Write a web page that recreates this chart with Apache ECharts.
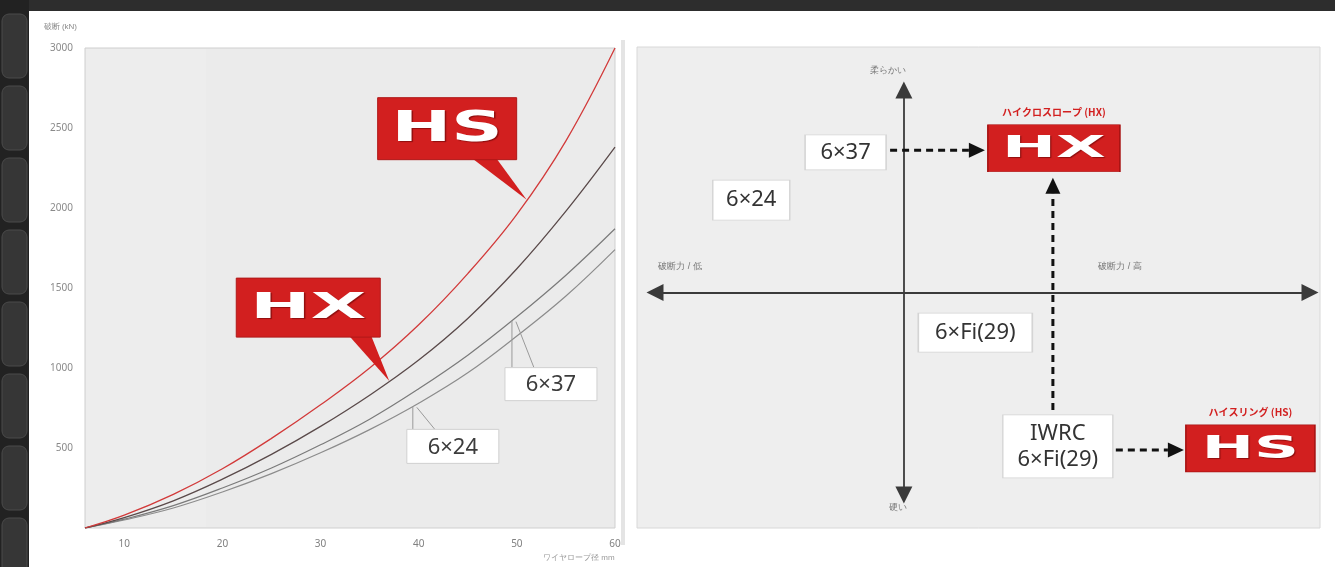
<!DOCTYPE html>
<html><head><meta charset="utf-8">
<script src="https://cdn.jsdelivr.net/npm/echarts@6/dist/echarts.min.js"></script>
<style>html,body{margin:0;padding:0;background:#fff}#c{width:1335px;height:567px}</style>
</head><body><div id="c"></div>
<script>
// ---------- left chart: breaking load vs rope diameter ----------
const diameters = [6, 10, 15, 20, 25, 30, 35, 40, 45, 50, 55, 60];
const hsLoad    = [0, 80, 210, 370, 560, 770, 1000, 1270, 1590, 1960, 2420, 3000];
const hxLoad    = [0, 65, 170, 305, 460, 635, 830, 1050, 1310, 1620, 1980, 2380];
const load6x37  = [0, 55, 140, 250, 375, 520, 680, 870, 1080, 1320, 1580, 1870];
const load6x24  = [0, 50, 125, 225, 340, 470, 615, 780, 970, 1200, 1450, 1740];
const xTickValues = [10, 20, 30, 40, 50, 60];
const yTickValues = [500, 1000, 1500, 2000, 2500, 3000];

// ---------- right diagram: strength (x) vs flexibility (y) ----------
const quadNames    = ['6×37', 'HX', '6×24', '6×Fi(29)', 'IWRC\n6×Fi(29)', 'HS'];
const quadStrength = [-8.9, 22.9, -23.3, 10.9, 23.5, 52.9];
const quadFlex     = [34.6, 35.6, 22.8, -9.9, -38.0, -38.5];
const captionNames = ['柔らかい', '硬い', '破断力 / 低', '破断力 / 高'];
const captionX     = [-2.4, -0.9, -34.2, 33.0];
const captionY     = [54.9, -53.2, 6.3, 6.3];

const boxLook = {
  '6×37': {w: 81, h: 35, red: false},
  'HX': {w: 132, h: 47, red: true},
  '6×24': {w: 77, h: 40, red: false},
  '6×Fi(29)': {w: 114, h: 39, red: false},
  'IWRC\n6×Fi(29)': {w: 110, h: 63, red: false},
  'HS': {w: 129, h: 47, red: true}
};
const RED = '#d21f1f';

const chart = echarts.init(document.getElementById('c'), null, {renderer: 'canvas'});
const pairs = arr => diameters.map((d, i) => [d, arr[i]]);
function valueAt(arr, d) {
  for (let i = 0; i < diameters.length - 1; i++) {
    if (d >= diameters[i] && d <= diameters[i + 1]) {
      const t = (d - diameters[i]) / (diameters[i + 1] - diameters[i]);
      return arr[i] + t * (arr[i + 1] - arr[i]);
    }
  }
  return arr[arr.length - 1];
}
function lineSeries(name, arr, color, w) {
  return {name, type: 'line', xAxisIndex: 0, yAxisIndex: 0, data: pairs(arr), smooth: 0.4,
    showSymbol: false, symbol: 'none', lineStyle: {color, width: w}, z: 3};
}

chart.setOption({
  animation: false,
  backgroundColor: '#ffffff',
  grid: [
    {left: 85, right: 720, top: 48, bottom: 39, show: true, backgroundColor: '#ebebeb', borderColor: '#cfcfcf', borderWidth: 1},
    {left: 655, right: 25, top: 90, bottom: 72}
  ],
  xAxis: [
    {gridIndex: 0, type: 'value', min: 6, max: 60,
      name: 'ワイヤロープ径 mm', nameLocation: 'end', nameGap: -72,
      nameTextStyle: {fontSize: 8, color: '#9a9a9a', verticalAlign: 'top', padding: [26, 0, 0, 0]},
      axisLine: {show: false}, axisTick: {show: false}, splitLine: {show: false},
      axisLabel: {customValues: xTickValues, color: '#808080', fontSize: 10, margin: 11, fontFamily: 'Noto Sans'}},
    {gridIndex: 1, type: 'value', min: -38, max: 62, z: 3,
      axisLine: {onZero: true, symbol: ['triangle', 'triangle'], symbolSize: [17, 17], lineStyle: {color: '#3a3a3a', width: 1.8}},
      axisTick: {show: false}, axisLabel: {show: false}, splitLine: {show: false}}
  ],
  yAxis: [
    {gridIndex: 0, type: 'value', min: 0, max: 3000,
      name: '破断 (kN)', nameLocation: 'end', nameGap: 17,
      nameTextStyle: {fontSize: 8, color: '#8a8a8a', align: 'right', padding: [0, 8, 0, 0]},
      axisLine: {show: false}, axisTick: {show: false}, splitLine: {show: false},
      axisLabel: {customValues: yTickValues, formatter: v => String(v), color: '#8a8a8a', fontSize: 10, margin: 12, fontFamily: 'Noto Sans'}},
    {gridIndex: 1, type: 'value', min: -50, max: 50, z: 3,
      axisLine: {onZero: true, symbol: ['triangle', 'triangle'], symbolSize: [17, 17], lineStyle: {color: '#3a3a3a', width: 1.8}},
      axisTick: {show: false}, axisLabel: {show: false}, splitLine: {show: false}}
  ],
  series: [
    lineSeries('6×24', load6x24, '#8c8c8c', 1.2),
    lineSeries('6×37', load6x37, '#7a7a7a', 1.2),
    lineSeries('HX', hxLoad, '#5a4a4a', 1.3),
    lineSeries('HS', hsLoad, '#d23a3a', 1.3),
    {type: 'scatter', xAxisIndex: 1, yAxisIndex: 1, clip: false, z: 4,
      data: quadNames.map((n, i) => {
        const b = boxLook[n];
        return {name: n, value: [quadStrength[i], quadFlex[i]], symbol: 'rect', symbolSize: [b.w, b.h],
          itemStyle: b.red ? {color: RED, borderColor: '#a81414', borderWidth: 1, opacity: 1}
                           : {color: '#ffffff', borderColor: '#d4d4d4', borderWidth: 1, opacity: 1},
          label: {show: !b.red}};
      }),
      emphasis: {disabled: true},
      label: {show: true, position: 'inside', formatter: '{b}', color: '#333', fontSize: 22,
        lineHeight: 26, fontFamily: 'Noto Sans'}},
    {type: 'scatter', xAxisIndex: 1, yAxisIndex: 1, clip: false, z: 4, symbolSize: 0,
      data: captionNames.map((n, i) => ({name: n, value: [captionX[i], captionY[i]]})),
      emphasis: {disabled: true},
      label: {show: true, position: 'inside', formatter: '{b}', color: '#555', fontSize: 9}}
  ]
});

// ---------- annotations ----------
const g = [];
g.push({type: 'rect', shape: {x: 0, y: 0, width: 1335, height: 11}, style: {fill: '#2d2d2d'}, z: 20});
g.push({type: 'rect', shape: {x: 0, y: 0, width: 29, height: 567}, style: {fill: '#222'}, z: 20});
for (let k = 0; k < 8; k++) {
  g.push({type: 'rect', shape: {x: 2, y: 14 + k * 72, width: 25, height: 64, r: 7},
    style: {fill: '#363636', stroke: '#4a4a4a', lineWidth: 1}, z: 21});
}
g.push({type: 'rect', shape: {x: 86, y: 49, width: 120, height: 478}, style: {fill: 'rgba(255,255,255,0.12)'}, z: 0});
g.push({type: 'rect', shape: {x: 621, y: 40, width: 4, height: 505}, style: {fill: '#e4e4e4'}, z: 0});
g.push({type: 'rect', shape: {x: 637, y: 47, width: 683, height: 481}, style: {fill: '#eeeeee', stroke: '#d8d8d8'}, z: -10});

function balloon(tip, dx, dy, w, h, b1, b2, text, fs, sx) {
  const bx = tip[0] + dx, by = tip[1] + dy;
  g.push({type: 'polygon', shape: {points: [[bx + b1, by + h - 1], [tip[0], tip[1]], [bx + b2, by + h - 1]]},
    style: {fill: RED}, z: 12});
  g.push({type: 'rect', shape: {x: bx, y: by, width: w, height: h}, style: {fill: RED, stroke: '#b01818', lineWidth: 1}, z: 12});
  g.push({type: 'text', x: bx + w / 2, y: by + h / 2 + 1, scaleX: sx, z: 13,
    style: {x: 0, y: 0, text, fill: '#fff', font: 'bold ' + fs + 'px "DejaVu Sans"', align: 'center', verticalAlign: 'middle',
      textAlign: 'center', textVerticalAlign: 'middle',
      textShadowColor: 'rgba(90,0,0,0.55)', textShadowOffsetX: 1.5, textShadowOffsetY: 1.5, textShadowBlur: 1}});
}
const px0 = v => chart.convertToPixel({gridIndex: 0}, v);
const hsTip = px0([51, valueAt(hsLoad, 51)]);
const hxTip = px0([37, valueAt(hxLoad, 37)]);
balloon(hsTip, -149, -102, 139, 62, 95, 119, 'HS', 42, 1.7);
balloon(hxTip, -153, -103, 144, 59, 113, 135, 'HX', 36, 2.0);

function labelBox(tip, dx, dy, w, h, text) {
  const bx = tip[0] + dx, by = tip[1] + dy;
  g.push({type: 'polyline', shape: {points: [[tip[0], tip[1]], [tip[0], by]]}, style: {stroke: '#9a9a9a', lineWidth: 1, fill: null}, z: 12});
  g.push({type: 'polyline', shape: {points: [[tip[0] + 4, tip[1] + 1], [tip[0] + 22, by]]}, style: {stroke: '#9a9a9a', lineWidth: 1, fill: null}, z: 12});
  g.push({type: 'rect', shape: {x: bx, y: by, width: w, height: h}, style: {fill: '#fff', stroke: '#d0d0d0', lineWidth: 1}, z: 12});
  g.push({type: 'text', x: bx + w / 2, y: by + h / 2 + 1, z: 13,
    style: {text, fill: '#3c3c3c', font: '22px "Noto Sans"', align: 'center', verticalAlign: 'middle',
      textAlign: 'center', textVerticalAlign: 'middle'}});
}
labelBox(px0([49.5, valueAt(load6x37, 49.5)]), -7, 47, 92, 33, '6×37');
labelBox(px0([39.4, valueAt(load6x24, 39.4)]), -6, 23, 92, 34, '6×24');

const px1 = i => chart.convertToPixel({gridIndex: 1}, [quadStrength[i], quadFlex[i]]);
const P = quadNames.map((n, i) => px1(i));
const S = quadNames.map(n => boxLook[n]);
function dashedArrow(x1, y1, x2, y2) {
  const a = Math.atan2(y2 - y1, x2 - x1), L = 16, W = 7.5;
  const bx = x2 - L * Math.cos(a), by = y2 - L * Math.sin(a);
  g.push({type: 'line', shape: {x1, y1, x2: bx, y2: by}, style: {stroke: '#111', lineWidth: 3, lineDash: [7, 5]}, z: 14});
  g.push({type: 'polygon', shape: {points: [[x2, y2], [bx - W * Math.sin(a), by + W * Math.cos(a)], [bx + W * Math.sin(a), by - W * Math.cos(a)]]},
    style: {fill: '#111'}, z: 14});
}
const yA = (P[0][1] + P[1][1]) / 2;
dashedArrow(P[0][0] + S[0].w / 2 + 4, yA, P[1][0] - S[1].w / 2 - 3, yA);
dashedArrow(P[1][0] - 1, P[4][1] - S[4].h / 2 - 5, P[1][0] - 1, P[1][1] + S[1].h / 2 + 6);
dashedArrow(P[4][0] + S[4].w / 2 + 3, P[4][1] + 3.5, P[5][0] - S[5].w / 2 - 2, P[4][1] + 3.5);

function logo(i, text, fs, sx, caption) {
  g.push({type: 'text', x: P[i][0], y: P[i][1] + 1, scaleX: sx, z: 15,
    style: {x: 0, y: 0, text, fill: '#fff', font: 'bold ' + fs + 'px "DejaVu Sans"', align: 'center', verticalAlign: 'middle',
      textAlign: 'center', textVerticalAlign: 'middle',
      textShadowColor: 'rgba(90,0,0,0.55)', textShadowOffsetX: 1.2, textShadowOffsetY: 1.2, textShadowBlur: 1}});
  g.push({type: 'text', x: P[i][0], y: P[i][1] - S[i].h / 2 - 13, z: 15,
    style: {text: caption, fill: RED, font: 'bold 10px "Noto Sans CJK JP"', align: 'center', verticalAlign: 'middle',
      textAlign: 'center', textVerticalAlign: 'middle'}});
}
logo(1, 'HX', 30, 2.15, 'ハイクロスロープ (HX)');
logo(5, 'HS', 32, 1.95, 'ハイスリング (HS)');

chart.setOption({graphic: {elements: g}});
</script>
</body></html>
